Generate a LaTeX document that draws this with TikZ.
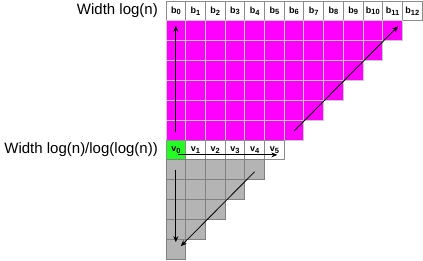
\documentclass[tikz,border=0pt]{standalone}
\usepackage{fontspec}
\setmainfont{Liberation Sans}
\usetikzlibrary{arrows.meta}
\definecolor{magcell}{HTML}{FF00FF}
\definecolor{greencell}{HTML}{22FF22}
\definecolor{graycell}{HTML}{B4B4B4}
\definecolor{hdrborder}{HTML}{8C8C8C}
\definecolor{magborder}{HTML}{C8C8C8}
\definecolor{grayborder}{HTML}{808080}
\newcommand{\cellsub}[2]{#1\raisebox{-0.35ex}{\fontsize{7.5}{8}\selectfont #2}}
\begin{document}
\begin{tikzpicture}[x=19.7pt,y=-19.85pt,
  cell/.style={line width=0.9pt, minimum width=19.7pt, minimum height=19.85pt,
    inner sep=0pt, outer sep=0pt, font=\fontsize{9}{10}\selectfont\bfseries},
  hdr/.style={cell, draw=hdrborder, fill=white},
  magc/.style={cell, draw=magborder, fill=magcell},
  vcell/.style={cell, draw=hdrborder, fill=white},
  vfirst/.style={cell, draw=hdrborder, fill=greencell},
  grayc/.style={cell, draw=grayborder, fill=graycell},
  arr/.style={line width=0.8pt, -{Stealth[length=6pt,width=5pt]}},
  lab/.style={anchor=east, inner sep=0pt, font=\fontsize{15}{17}\selectfont}]
\useasboundingbox (-8.4264,-0.0504) rectangle (13.0457,13.0479);
% header row
\foreach \c in {0,...,12} {
  \node[hdr] (b-\c) at (\c+0.5,0.5) {\cellsub{b}{\c}};
}
% magenta staircase
\foreach \r in {1,...,6} {
  \pgfmathtruncatemacro\n{12-\r}
  \foreach \c in {0,...,\n} {
    \node[magc] (m-\r-\c) at (\c+0.5,\r+0.5) {};
  }
}
% v row
\node[vfirst] (v-0) at (0.5,7.5) {\cellsub{v}{0}};
\foreach \c in {1,...,5} {
  \node[vcell] (v-\c) at (\c+0.5,7.5) {\cellsub{v}{\c}};
}
% gray staircase
\foreach \k in {1,...,5} {
  \pgfmathtruncatemacro\n{5-\k}
  \foreach \c in {0,...,\n} {
    \node[grayc] (g-\k-\c) at (\c+0.5,\k+7.5) {};
  }
}
% labels
\node[lab] (l1) at ([xshift=-8pt]b-0.west) {Width log(n)};
\node[lab] (l2) at ([xshift=-8pt]v-0.west) {Width log(n)/log(log(n))};
% arrows
\draw[arr] ([yshift=-2pt]m-6-0.center) -- ([yshift=5pt]m-1-0.center);
\draw[arr] ([yshift=-1pt]m-6-6.center) -- ([xshift=5.5pt,yshift=4.5pt]m-1-11.center);
\draw[arr] ([xshift=2pt,yshift=-5pt]v-0.center) -- ([xshift=3pt,yshift=-5pt]v-5.center);
\draw[arr] (g-1-0.center) -- ([yshift=7pt]g-5-0.center);
\draw[arr] ([yshift=-2pt]g-1-4.center) -- ([xshift=5pt,yshift=3pt]g-5-0.center);
\end{tikzpicture}
\end{document}
